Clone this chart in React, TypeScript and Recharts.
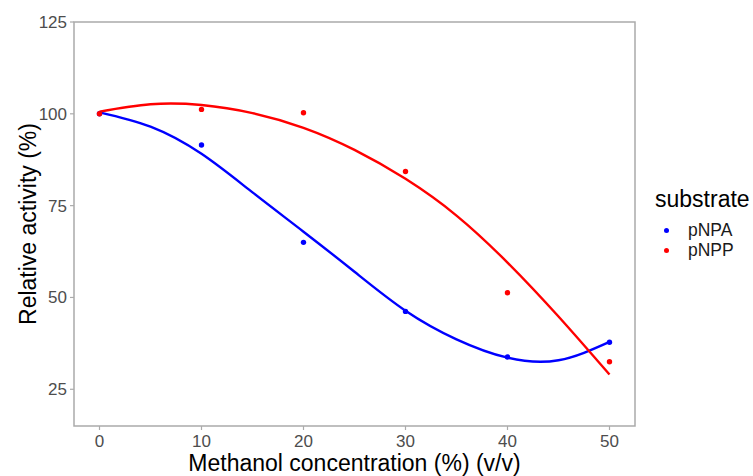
import React from "react";
import {
  ComposedChart,
  Line,
  Scatter,
  XAxis,
  YAxis,
  ReferenceArea,
  Legend,
} from "recharts";

// measured points
const concentrations = [0, 10, 20, 30, 40, 50];
const pnpaActivity = [100, 91.5, 65, 46.2, 33.8, 37.8];
const pnppActivity = [100, 101.2, 100.3, 84.3, 51.3, 32.5];

// fitted curves
const curveX = [0, 5, 10, 15, 20, 25, 30, 35, 40, 45, 50];
const pnpaFit = [100.4, 96.5, 89.1, 78.6, 67.9, 57, 46.4, 38.6, 33.6, 32.9, 37.9];
const pnppFit = [100.6, 102.6, 102.4, 100.2, 96.2, 90.2, 82.3, 72.3, 59.5, 44.8, 29];

const xTicks = [0, 10, 20, 30, 40, 50];
const yTicks = [25, 50, 75, 100, 125];

const BLUE = "#0000ff";
const RED = "#ff0000";
const GREY_TEXT = "#4d4d4d";
const GREY_LINE = "#ababab";

const toPoints = (xs: number[], ys: number[]) => xs.map((x, i) => ({ x, y: ys[i] }));

const pnpaPoints = toPoints(concentrations, pnpaActivity);
const pnppPoints = toPoints(concentrations, pnppActivity);
const pnpaCurve = toPoints(curveX, pnpaFit);
const pnppCurve = toPoints(curveX, pnppFit);

const legendItems = [
  { name: "pNPA", color: BLUE },
  { name: "pNPP", color: RED },
];

function SubstrateLegend() {
  return (
    <div style={{ fontFamily: "'Liberation Sans', Arial, sans-serif" }}>
      <div style={{ fontSize: 23, color: "#000", lineHeight: "26px" }}>substrate</div>
      {legendItems.map((item, i) => (
        <div
          key={item.name}
          style={{ display: "flex", alignItems: "center", height: 20.5, marginTop: i === 0 ? 8 : 0 }}
        >
          <span
            style={{
              width: 5,
              height: 5,
              borderRadius: "50%",
              background: item.color,
              marginLeft: 9,
              marginRight: 19,
            }}
          />
          <span style={{ fontSize: 17.5, color: "#1a1a1a" }}>{item.name}</span>
        </div>
      ))}
    </div>
  );
}

const dot = (color: string) => (props: any) =>
  <circle cx={props.cx} cy={props.cy} r={2.7} fill={color} />;

export default function App() {
  return (
    <div
      style={{
        position: "absolute",
        left: 0,
        top: 0,
        width: 753,
        height: 476,
        background: "#fff",
        fontFamily: "'Liberation Sans', Arial, sans-serif",
      }}
    >
      <ComposedChart width={753} height={476} margin={{ top: 22, right: 118, bottom: 0, left: 0 }}>
        <XAxis
          type="number"
          dataKey="x"
          domain={[-2.5, 52.5]}
          ticks={xTicks}
          allowDataOverflow
          axisLine={false}
          tickLine={{ stroke: GREY_LINE, strokeWidth: 1.2 }}
          tickSize={4}
          tickMargin={5}
          height={50}
          tick={{ fill: GREY_TEXT, fontSize: 17 }}
          label={{
            content: ({ viewBox }: any) => (
              <text
                x={viewBox.x + viewBox.width / 2}
                y={viewBox.y + 45}
                textAnchor="middle"
                fontSize={23}
                fill="#000"
              >
                Methanol concentration (%) (v/v)
              </text>
            ),
          }}
        />
        <YAxis
          type="number"
          domain={[15, 125]}
          ticks={yTicks}
          allowDataOverflow
          axisLine={false}
          tickLine={{ stroke: GREY_LINE, strokeWidth: 1.2 }}
          tickSize={4}
          tickMargin={3}
          width={74}
          tick={{ fill: GREY_TEXT, fontSize: 17 }}
          label={{
            content: ({ viewBox }: any) => {
              const cx = 28;
              const cy = viewBox.y + viewBox.height / 2;
              return (
                <text
                  x={cx}
                  y={cy}
                  transform={`rotate(-90, ${cx}, ${cy})`}
                  textAnchor="middle"
                  dominantBaseline="central"
                  fontSize={23}
                  fill="#000"
                >
                  Relative activity (%)
                </text>
              );
            },
          }}
        />
        <ReferenceArea
          x1={-2.5}
          x2={52.5}
          y1={15}
          y2={125}
          fill="none"
          fillOpacity={0}
          stroke={GREY_LINE}
          strokeWidth={1.5}
        />
        <Line
          data={pnpaCurve}
          dataKey="y"
          type="natural"
          stroke={BLUE}
          strokeWidth={2.4}
          dot={false}
          activeDot={false}
          isAnimationActive={false}
        />
        <Line
          data={pnppCurve}
          dataKey="y"
          type="natural"
          stroke={RED}
          strokeWidth={2.4}
          dot={false}
          activeDot={false}
          isAnimationActive={false}
        />
        <Scatter data={pnpaPoints} dataKey="y" shape={dot(BLUE)} isAnimationActive={false} />
        <Scatter data={pnppPoints} dataKey="y" shape={dot(RED)} isAnimationActive={false} />
        <Legend
          layout="vertical"
          align="center"
          verticalAlign="middle"
          content={<SubstrateLegend />}
          wrapperStyle={{ position: "absolute", left: 655, top: 186, width: 98 }}
        />
      </ComposedChart>
    </div>
  );
}
